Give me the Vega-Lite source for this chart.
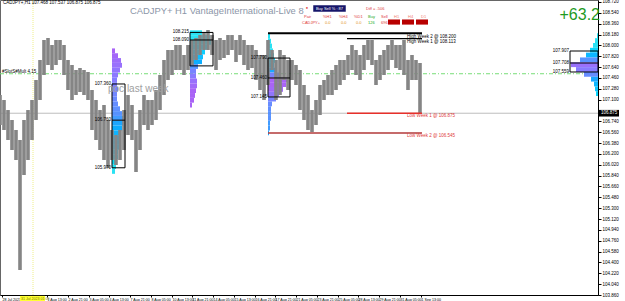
{
"$schema":"https://vega.github.io/schema/vega-lite/v6.json",
"width":598,"height":295,
"autosize":{"type":"none"},
"padding":{"left":0,"top":0,"right":27,"bottom":6},
"background":"#ffffff",
"config":{"view":{"stroke":"#666","strokeWidth":1},"axis":{"title":null,"grid":false,"labelFont":"Liberation Sans","labelFontSize":5,"labelColor":"#000","domainColor":"#000","tickColor":"#000","labelOverlap":false,"labelBound":false,"labelFlush":false},"text":{"font":"Liberation Sans"}},
"resolve":{"axis":{"x":"independent","y":"independent"},"scale":{"x":"shared","y":"shared"}},
"datasets":{
"price":[
{"t":0,"hi":107.177,"lo":106.680},{"t":4,"hi":107.094,"lo":106.597},{"t":8,"hi":106.928,"lo":106.431},{"t":12,"hi":106.763,"lo":106.265},{"t":16,"hi":106.597,"lo":106.099},{"t":20,"hi":106.431,"lo":104.275},{"t":24,"hi":106.763,"lo":105.850},{"t":28,"hi":106.928,"lo":106.099},{"t":32,"hi":107.094,"lo":106.431},{"t":36,"hi":107.426,"lo":106.763},{"t":40,"hi":107.758,"lo":107.094},{"t":44,"hi":108.090,"lo":107.509},{"t":48,"hi":108.123,"lo":107.675},{"t":52,"hi":108.007,"lo":107.592},{"t":56,"hi":108.090,"lo":107.675},{"t":60,"hi":108.090,"lo":107.758},{"t":64,"hi":108.007,"lo":107.509},{"t":68,"hi":107.758,"lo":107.260},{"t":72,"hi":107.675,"lo":107.094},{"t":76,"hi":107.592,"lo":107.177},{"t":80,"hi":107.625,"lo":107.227},{"t":84,"hi":107.592,"lo":107.177},{"t":88,"hi":107.559,"lo":107.094},{"t":92,"hi":107.260,"lo":106.597},{"t":96,"hi":107.094,"lo":106.431},{"t":100,"hi":106.928,"lo":106.265},{"t":104,"hi":107.011,"lo":106.099},{"t":108,"hi":106.763,"lo":105.966},{"t":112,"hi":106.597,"lo":106.099},{"t":116,"hi":106.514,"lo":106.016},{"t":120,"hi":106.597,"lo":106.099},{"t":124,"hi":106.928,"lo":106.265},{"t":128,"hi":107.177,"lo":106.514},{"t":132,"hi":107.011,"lo":106.431},{"t":136,"hi":106.597,"lo":105.900},{"t":140,"hi":106.928,"lo":106.265},{"t":144,"hi":107.177,"lo":106.680},{"t":148,"hi":107.094,"lo":106.597},{"t":152,"hi":107.094,"lo":106.680},{"t":156,"hi":107.260,"lo":106.763},{"t":160,"hi":107.509,"lo":106.928},{"t":164,"hi":107.758,"lo":107.177},{"t":168,"hi":107.924,"lo":107.426},{"t":172,"hi":107.924,"lo":107.509},{"t":176,"hi":108.007,"lo":107.592},{"t":180,"hi":108.007,"lo":107.592},{"t":184,"hi":107.841,"lo":107.509},{"t":188,"hi":108.007,"lo":107.592},{"t":192,"hi":108.090,"lo":107.675},{"t":196,"hi":108.123,"lo":107.758},{"t":200,"hi":108.172,"lo":107.841},{"t":204,"hi":108.222,"lo":107.924},{"t":208,"hi":108.255,"lo":107.924},{"t":212,"hi":108.172,"lo":107.841},{"t":216,"hi":108.090,"lo":107.592},{"t":220,"hi":108.123,"lo":107.758},{"t":224,"hi":108.090,"lo":107.791},{"t":228,"hi":108.172,"lo":107.841},{"t":232,"hi":108.172,"lo":107.924},{"t":236,"hi":108.090,"lo":107.725},{"t":240,"hi":108.172,"lo":107.841},{"t":244,"hi":108.090,"lo":107.675},{"t":248,"hi":108.007,"lo":107.592},{"t":252,"hi":108.007,"lo":107.625},{"t":256,"hi":107.924,"lo":107.426},{"t":260,"hi":107.841,"lo":107.260},{"t":264,"hi":107.841,"lo":107.094},{"t":268,"hi":108.090,"lo":107.343},{"t":272,"hi":107.924,"lo":107.592},{"t":276,"hi":107.758,"lo":107.094},{"t":280,"hi":107.924,"lo":107.177},{"t":284,"hi":107.841,"lo":107.426},{"t":288,"hi":107.758,"lo":107.260},{"t":292,"hi":107.758,"lo":107.426},{"t":296,"hi":107.675,"lo":107.343},{"t":300,"hi":107.592,"lo":106.928},{"t":304,"hi":107.343,"lo":106.763},{"t":308,"hi":107.177,"lo":106.597},{"t":312,"hi":106.928,"lo":106.564},{"t":316,"hi":107.094,"lo":106.680},{"t":320,"hi":107.343,"lo":106.846},{"t":324,"hi":107.426,"lo":107.094},{"t":328,"hi":107.509,"lo":107.177},{"t":332,"hi":107.592,"lo":107.177},{"t":336,"hi":107.675,"lo":107.260},{"t":340,"hi":107.758,"lo":107.343},{"t":344,"hi":107.758,"lo":107.426},{"t":348,"hi":107.841,"lo":107.509},{"t":352,"hi":108.007,"lo":107.592},{"t":356,"hi":107.924,"lo":107.509},{"t":360,"hi":107.841,"lo":107.426},{"t":364,"hi":108.007,"lo":107.592},{"t":368,"hi":108.090,"lo":107.758},{"t":372,"hi":108.090,"lo":107.675},{"t":376,"hi":107.758,"lo":107.343},{"t":380,"hi":107.841,"lo":107.426},{"t":384,"hi":107.924,"lo":107.509},{"t":388,"hi":108.007,"lo":107.592},{"t":392,"hi":108.090,"lo":107.758},{"t":396,"hi":108.007,"lo":107.625},{"t":400,"hi":108.007,"lo":107.592},{"t":404,"hi":108.090,"lo":107.509},{"t":408,"hi":107.758,"lo":107.260},{"t":412,"hi":107.841,"lo":107.426},{"t":416,"hi":107.758,"lo":107.426},{"t":420,"hi":107.708,"lo":106.879}
],
"prof":[
{"t0":112,"t1":115,"hi":107.95,"lo":107.87,"c":0},{"t0":112,"t1":118,"hi":107.87,"lo":107.79,"c":0.03},{"t0":112,"t1":121,"hi":107.79,"lo":107.71,"c":0.07},{"t0":112,"t1":122,"hi":107.71,"lo":107.63,"c":0.1},{"t0":112,"t1":120,"hi":107.63,"lo":107.55,"c":0.14},{"t0":112,"t1":118,"hi":107.55,"lo":107.47,"c":0.18},{"t0":112,"t1":117,"hi":107.47,"lo":107.39,"c":0.22},{"t0":112,"t1":117,"hi":107.39,"lo":107.31,"c":0.26},{"t0":112,"t1":118,"hi":107.31,"lo":107.23,"c":0.3},{"t0":112,"t1":117,"hi":107.23,"lo":107.15,"c":0.34},{"t0":112,"t1":117,"hi":107.15,"lo":107.07,"c":0.38},{"t0":112,"t1":118,"hi":107.07,"lo":106.99,"c":0.42},{"t0":112,"t1":120,"hi":106.99,"lo":106.91,"c":0.46},{"t0":112,"t1":122,"hi":106.91,"lo":106.83,"c":0.5},{"t0":112,"t1":124,"hi":106.83,"lo":106.75,"c":0.55},{"t0":112,"t1":125,"hi":106.75,"lo":106.67,"c":0.6},{"t0":112,"t1":122,"hi":106.67,"lo":106.59,"c":0.64},{"t0":112,"t1":120,"hi":106.59,"lo":106.51,"c":0.68},{"t0":112,"t1":120,"hi":106.51,"lo":106.43,"c":0.72},{"t0":112,"t1":119,"hi":106.43,"lo":106.35,"c":0.76},{"t0":112,"t1":119,"hi":106.35,"lo":106.27,"c":0.8},{"t0":112,"t1":118,"hi":106.27,"lo":106.19,"c":0.85},{"t0":112,"t1":118,"hi":106.19,"lo":106.11,"c":0.9},{"t0":112,"t1":117,"hi":106.11,"lo":106.03,"c":0.95},{"t0":112,"t1":116,"hi":106.03,"lo":105.95,"c":1},{"t0":112,"t1":115,"hi":105.95,"lo":105.87,"c":1},
{"t0":190,"t1":202,"hi":108.25,"lo":108.17,"c":1},{"t0":190,"t1":210,"hi":108.17,"lo":108.09,"c":1},{"t0":190,"t1":213,"hi":108.09,"lo":108.01,"c":0.95},{"t0":190,"t1":208,"hi":108.01,"lo":107.93,"c":0.9},{"t0":190,"t1":205,"hi":107.93,"lo":107.85,"c":0.85},{"t0":190,"t1":203,"hi":107.85,"lo":107.77,"c":0.75},{"t0":190,"t1":202,"hi":107.77,"lo":107.69,"c":0.65},{"t0":190,"t1":198,"hi":107.69,"lo":107.61,"c":0.5},{"t0":190,"t1":196,"hi":107.61,"lo":107.53,"c":0.3},{"t0":190,"t1":196,"hi":107.53,"lo":107.45,"c":0.2},{"t0":190,"t1":197,"hi":107.45,"lo":107.37,"c":0.1},{"t0":190,"t1":197,"hi":107.37,"lo":107.29,"c":0.05},{"t0":190,"t1":196,"hi":107.29,"lo":107.21,"c":0},{"t0":190,"t1":195,"hi":107.21,"lo":107.13,"c":0},{"t0":190,"t1":194,"hi":107.13,"lo":107.05,"c":0},{"t0":190,"t1":192,"hi":107.05,"lo":106.97,"c":0},
{"t0":268,"t1":270,"hi":108.19,"lo":108.11,"c":1},{"t0":268,"t1":271,"hi":108.11,"lo":108.03,"c":1},{"t0":268,"t1":272,"hi":108.03,"lo":107.95,"c":1},{"t0":268,"t1":273,"hi":107.95,"lo":107.87,"c":1},{"t0":268,"t1":274,"hi":107.87,"lo":107.79,"c":0.95},{"t0":268,"t1":275,"hi":107.79,"lo":107.71,"c":0.9},{"t0":268,"t1":274,"hi":107.71,"lo":107.63,"c":0.8},{"t0":268,"t1":275,"hi":107.63,"lo":107.55,"c":0.6},{"t0":268,"t1":279,"hi":107.55,"lo":107.47,"c":0.3},{"t0":268,"t1":288,"hi":107.47,"lo":107.39,"c":0},{"t0":268,"t1":286,"hi":107.39,"lo":107.31,"c":0},{"t0":268,"t1":283,"hi":107.31,"lo":107.23,"c":0.05},{"t0":268,"t1":279,"hi":107.23,"lo":107.15,"c":0.15},{"t0":268,"t1":276,"hi":107.15,"lo":107.07,"c":0.3},{"t0":268,"t1":272,"hi":107.07,"lo":106.99,"c":0.4},{"t0":268,"t1":271,"hi":106.99,"lo":106.91,"c":0.45},{"t0":268,"t1":271,"hi":106.91,"lo":106.83,"c":0.5},{"t0":268,"t1":271,"hi":106.83,"lo":106.75,"c":0.5},{"t0":268,"t1":270,"hi":106.75,"lo":106.67,"c":0.55},{"t0":268,"t1":270,"hi":106.67,"lo":106.59,"c":0.55},{"t0":268,"t1":269,"hi":106.59,"lo":106.51,"c":0.6},
{"t0":597,"t1":598,"hi":108.20,"lo":108.12,"c":1},{"t0":595,"t1":598,"hi":108.12,"lo":108.04,"c":1},{"t0":593,"t1":598,"hi":108.04,"lo":107.96,"c":1},{"t0":590,"t1":598,"hi":107.96,"lo":107.88,"c":0.9},{"t0":586,"t1":598,"hi":107.88,"lo":107.80,"c":0.7},{"t0":580,"t1":598,"hi":107.80,"lo":107.72,"c":0.5},{"t0":571,"t1":598,"hi":107.72,"lo":107.64,"c":0.1},{"t0":576,"t1":598,"hi":107.64,"lo":107.56,"c":0.2},{"t0":584,"t1":598,"hi":107.56,"lo":107.48,"c":0.4},{"t0":591,"t1":598,"hi":107.48,"lo":107.40,"c":0.6},{"t0":594,"t1":598,"hi":107.40,"lo":107.32,"c":0.7},{"t0":595,"t1":598,"hi":107.32,"lo":107.24,"c":0.8},{"t0":596,"t1":598,"hi":107.24,"lo":107.16,"c":0.9}
],
"boxes":[
{"t0":112,"t1":125,"hi":107.36,"lo":105.97,"poc":106.76},
{"t0":190,"t1":213,"hi":108.215,"lo":107.66,"poc":108.09},
{"t0":268,"t1":290,"hi":107.79,"lo":107.145,"poc":107.46},
{"t0":570,"t1":598,"hi":107.907,"lo":107.559,"poc":107.708}
],
"boxlabels":[
{"t":111,"p":107.36,"s":"107.360"},{"t":111,"p":106.76,"s":"106.760"},{"t":111,"p":105.97,"s":"105.970"},
{"t":189,"p":108.215,"s":"108.215"},{"t":189,"p":108.09,"s":"108.090"},
{"t":267,"p":107.79,"s":"107.790"},{"t":267,"p":107.46,"s":"107.460"},{"t":267,"p":107.145,"s":"107.145"},
{"t":569,"p":107.907,"s":"107.907"},{"t":569,"p":107.708,"s":"107.708"},{"t":569,"p":107.559,"s":"107.559"}
],
"highs":[{"t0":268,"t1":422,"p":108.20,"w":"2"},{"t0":347,"t1":422,"p":108.113,"w":"1"}],
"lows":[{"t0":347,"t1":422,"p":106.875,"n":"Low Week 1"},{"t0":268,"t1":422,"p":106.545,"n":"Low Week 2"}],
"blacktext":[
{"t":3,"p":108.70,"s":"CADJPY+,H1 107.468 107.537 106.875 106.875"},
{"t":2,"p":107.56,"s":"#SlotS#Mult 4.15"},
{"t":407,"p":108.14,"s":"High Week 2 @ 108.200"},
{"t":407,"p":108.056,"s":"High Week 1 @ 108.113"}
],
"redtext":[
{"t":407,"p":106.829,"s":"Low Week 1 @ 106.875"},
{"t":407,"p":106.497,"s":"Low Week 2 @ 106.545"}
],
"panelred":[
{"t":366,"p":108.604,"s":"Diff = -506"},
{"t":304,"p":108.479,"s":"Pair"},{"t":323,"p":108.479,"s":"%H1"},{"t":339,"p":108.479,"s":"%H4"},{"t":354,"p":108.479,"s":"%D1"},{"t":381,"p":108.479,"s":"Sell"},
{"t":302,"p":108.37,"s":"CADJPY+"},{"t":381,"p":108.37,"s":"696"}
],
"salmon":[{"t":394,"p":108.479,"s":"H1"},{"t":408,"p":108.479,"s":"H4"},{"t":421,"p":108.479,"s":"D1"}],
"orange":[{"t":325,"p":108.37,"s":"0.0"},{"t":341,"p":108.37,"s":"0.0"},{"t":356,"p":108.37,"s":"0.0"}],
"green":[{"t":368,"p":108.479,"s":"Buy"},{"t":368,"p":108.37,"s":"126"}],
"redboxes":[{"t0":388,"t1":400,"hi":108.43,"lo":108.345},{"t0":402,"t1":414,"hi":108.43,"lo":108.345},{"t0":416,"t1":428,"hi":108.43,"lo":108.345}]
},
"layer":[
{"data":{"values":[{"p":106.875}]},"mark":{"type":"rule","color":"#bdbdbd","strokeWidth":1},"encoding":{"y":{"field":"p","type":"quantitative","scale":{"domain":[103.86,108.753],"nice":false,"zero":false},"axis":{"orient":"right","values":[103.86,104.04,104.22,104.40,104.58,104.76,104.94,105.12,105.30,105.48,105.66,105.84,106.02,106.20,106.38,106.56,106.74,107.10,107.28,107.46,107.64,107.82,108.00,108.18,108.36,108.54,108.72],"format":".3f","tickSize":3,"labelPadding":1,"labelOverlap":false,"labelSeparation":0,"labelFontSize":4.5}}}},
{"data":{"values":[{"p":107.53}]},"mark":{"type":"rule","color":"#77dd77","strokeWidth":1,"strokeDash":[4,2,1,2]},"encoding":{"y":{"field":"p","type":"quantitative","axis":null}}},
{"data":{"values":[{"t":33}]},"mark":{"type":"rule","color":"#eeee88","strokeWidth":1,"strokeDash":[1,1]},"encoding":{"x":{"field":"t","type":"quantitative","scale":{"domain":[0,598],"nice":false,"zero":false},"axis":{"orient":"bottom","values":[2,47,68,89,109,130,151,172,192,213,234,255,275,296,317,338,358,379,400,421],"labelExpr":"['28 Jul 2023','1 Aug 13:00','2 Aug 21:00','3 Aug 05:00','4 Aug 13:00','7 Aug 21:00','8 Aug 05:00','10 Aug 13:00','11 Aug 21:00','14 Aug 05:00','15 Aug 13:00','16 Aug 21:00','17 Aug 21:00','21 Aug 05:00','23 Aug 21:00','25 Aug 05:00','28 Aug 13:00','29 Aug 21:00','31 Aug 05:00','1 Sep 13:00'][indexof([2,47,68,89,109,130,151,172,192,213,234,255,275,296,317,338,358,379,400,421], datum.value)]","labelAlign":"left","tickSize":2,"labelPadding":0,"labelOverlap":false,"labelSeparation":0,"labelFontSize":3.6}}}},
{"data":{"name":"prof"},"mark":{"type":"rect","opacity":0.95},"encoding":{"x":{"field":"t0","type":"quantitative","axis":null},"x2":{"field":"t1"},"y":{"field":"hi","type":"quantitative","axis":null},"y2":{"field":"lo"},"color":{"field":"c","type":"quantitative","legend":null,"scale":{"domain":[0,0.5,1],"range":["#a45cf6","#4f8dff","#1fe0f2"]}}}},
{"data":{"name":"price"},"mark":{"type":"rule","color":"#858585","strokeWidth":3.6},"encoding":{"x":{"field":"t","type":"quantitative","axis":null},"y":{"field":"lo","type":"quantitative","axis":null},"y2":{"field":"hi"}}},
{"data":{"name":"boxes"},"mark":{"type":"rect","fill":null,"fillOpacity":0,"stroke":"#000","strokeWidth":1},"encoding":{"x":{"field":"t0","type":"quantitative","axis":null},"x2":{"field":"t1"},"y":{"field":"hi","type":"quantitative","axis":null},"y2":{"field":"lo"}}},
{"data":{"name":"boxes"},"mark":{"type":"rule","color":"#000","strokeWidth":1},"encoding":{"x":{"field":"t0","type":"quantitative","axis":null},"x2":{"field":"t1"},"y":{"field":"poc","type":"quantitative","axis":null}}},
{"data":{"name":"boxlabels"},"mark":{"type":"text","fontSize":4.5,"align":"right","baseline":"middle","color":"#000"},"encoding":{"x":{"field":"t","type":"quantitative","axis":null},"y":{"field":"p","type":"quantitative","axis":null},"text":{"field":"s"}}},
{"data":{"name":"highs"},"mark":{"type":"rule","color":"#000"},"encoding":{"x":{"field":"t0","type":"quantitative","axis":null},"x2":{"field":"t1"},"y":{"field":"p","type":"quantitative","axis":null},"strokeWidth":{"field":"w","type":"nominal","legend":null,"scale":{"domain":["2","1"],"range":[2,1.3]}}}},
{"data":{"name":"lows"},"mark":{"type":"rule","strokeWidth":1.5},"encoding":{"x":{"field":"t0","type":"quantitative","axis":null},"x2":{"field":"t1"},"y":{"field":"p","type":"quantitative","axis":null},"color":{"field":"n","type":"nominal","legend":null,"scale":{"domain":["Low Week 1","Low Week 2"],"range":["#e8302a","#b23a3a"]}}}},
{"data":{"name":"blacktext"},"mark":{"type":"text","fontSize":4.5,"align":"left","baseline":"middle","color":"#000"},"encoding":{"x":{"field":"t","type":"quantitative","axis":null},"y":{"field":"p","type":"quantitative","axis":null},"text":{"field":"s"}}},
{"data":{"name":"redtext"},"mark":{"type":"text","fontSize":4.5,"align":"left","baseline":"middle","color":"#e03a3a"},"encoding":{"x":{"field":"t","type":"quantitative","axis":null},"y":{"field":"p","type":"quantitative","axis":null},"text":{"field":"s"}}},
{"data":{"name":"panelred"},"mark":{"type":"text","fontSize":4,"align":"left","baseline":"middle","color":"#e03a3a"},"encoding":{"x":{"field":"t","type":"quantitative","axis":null},"y":{"field":"p","type":"quantitative","axis":null},"text":{"field":"s"}}},
{"data":{"name":"salmon"},"mark":{"type":"text","fontSize":4,"align":"left","baseline":"middle","color":"#f08070"},"encoding":{"x":{"field":"t","type":"quantitative","axis":null},"y":{"field":"p","type":"quantitative","axis":null},"text":{"field":"s"}}},
{"data":{"name":"orange"},"mark":{"type":"text","fontSize":4,"align":"left","baseline":"middle","color":"#e09020"},"encoding":{"x":{"field":"t","type":"quantitative","axis":null},"y":{"field":"p","type":"quantitative","axis":null},"text":{"field":"s"}}},
{"data":{"name":"green"},"mark":{"type":"text","fontSize":4,"align":"left","baseline":"middle","color":"#22aa22"},"encoding":{"x":{"field":"t","type":"quantitative","axis":null},"y":{"field":"p","type":"quantitative","axis":null},"text":{"field":"s"}}},
{"data":{"name":"redboxes"},"mark":{"type":"rect","fill":"#b80000"},"encoding":{"x":{"field":"t0","type":"quantitative","axis":null},"x2":{"field":"t1"},"y":{"field":"hi","type":"quantitative","axis":null},"y2":{"field":"lo"}}},
{"data":{"values":[{"t0":313,"t1":346,"hi":108.67,"lo":108.554}]},"mark":{"type":"rect","fill":"#16166a","stroke":"#ffffff","strokeWidth":0.5},"encoding":{"x":{"field":"t0","type":"quantitative","axis":null},"x2":{"field":"t1"},"y":{"field":"hi","type":"quantitative","axis":null},"y2":{"field":"lo"}}},
{"data":{"values":[{"t":329.5,"p":108.612,"s":"Buy Sell % : 87"}]},"mark":{"type":"text","fontSize":4,"align":"center","baseline":"middle","color":"#ffffff"},"encoding":{"x":{"field":"t","type":"quantitative","axis":null},"y":{"field":"p","type":"quantitative","axis":null},"text":{"field":"s"}}},
{"data":{"values":[{"t":307,"p":108.62,"s":"●"}]},"mark":{"type":"text","fontSize":4,"align":"center","baseline":"middle","color":"#e03030"},"encoding":{"x":{"field":"t","type":"quantitative","axis":null},"y":{"field":"p","type":"quantitative","axis":null},"text":{"field":"s"}}},
{"data":{"values":[{"t":130,"p":108.57,"s":"CADJPY+ H1 VantageInternational-Live 8"}]},"mark":{"type":"text","fontSize":9.4,"align":"left","baseline":"middle","color":"#8c96a8"},"encoding":{"x":{"field":"t","type":"quantitative","axis":null},"y":{"field":"p","type":"quantitative","axis":null},"text":{"field":"s"}}},
{"data":{"values":[{"t":600,"p":108.504,"s":"+63.2"}]},"mark":{"type":"text","fontSize":16,"align":"right","baseline":"middle","color":"#1f9a1f"},"encoding":{"x":{"field":"t","type":"quantitative","axis":null},"y":{"field":"p","type":"quantitative","axis":null},"text":{"field":"s"}}},
{"data":{"values":[{"t":108,"p":107.27,"s":"poc last week"}]},"mark":{"type":"text","fontSize":10,"align":"left","baseline":"middle","color":"#a0a0a0"},"encoding":{"x":{"field":"t","type":"quantitative","axis":null},"y":{"field":"p","type":"quantitative","axis":null},"text":{"field":"s"}}},
{"data":{"values":[{"t0":599,"t1":619,"hi":106.93,"lo":106.82}]},"mark":{"type":"rect","fill":"#000000"},"encoding":{"x":{"field":"t0","type":"quantitative","axis":null},"x2":{"field":"t1"},"y":{"field":"hi","type":"quantitative","axis":null},"y2":{"field":"lo"}}},
{"data":{"values":[{"t":601,"p":106.875,"s":"106.875"}]},"mark":{"type":"text","fontSize":4.5,"align":"left","baseline":"middle","color":"#ffffff"},"encoding":{"x":{"field":"t","type":"quantitative","axis":null},"y":{"field":"p","type":"quantitative","axis":null},"text":{"field":"s"}}},
{"data":{"values":[{"t0":20,"t1":45,"hi":103.845,"lo":103.76}]},"mark":{"type":"rect","fill":"#ffff33"},"encoding":{"x":{"field":"t0","type":"quantitative","axis":null},"x2":{"field":"t1"},"y":{"field":"hi","type":"quantitative","axis":null},"y2":{"field":"lo"}}},
{"data":{"values":[{"t":21,"p":103.80,"s":"31 Jul 2023 01:00"}]},"mark":{"type":"text","fontSize":3.6,"align":"left","baseline":"middle","color":"#777700"},"encoding":{"x":{"field":"t","type":"quantitative","axis":null},"y":{"field":"p","type":"quantitative","axis":null},"text":{"field":"s"}}}
]
}
